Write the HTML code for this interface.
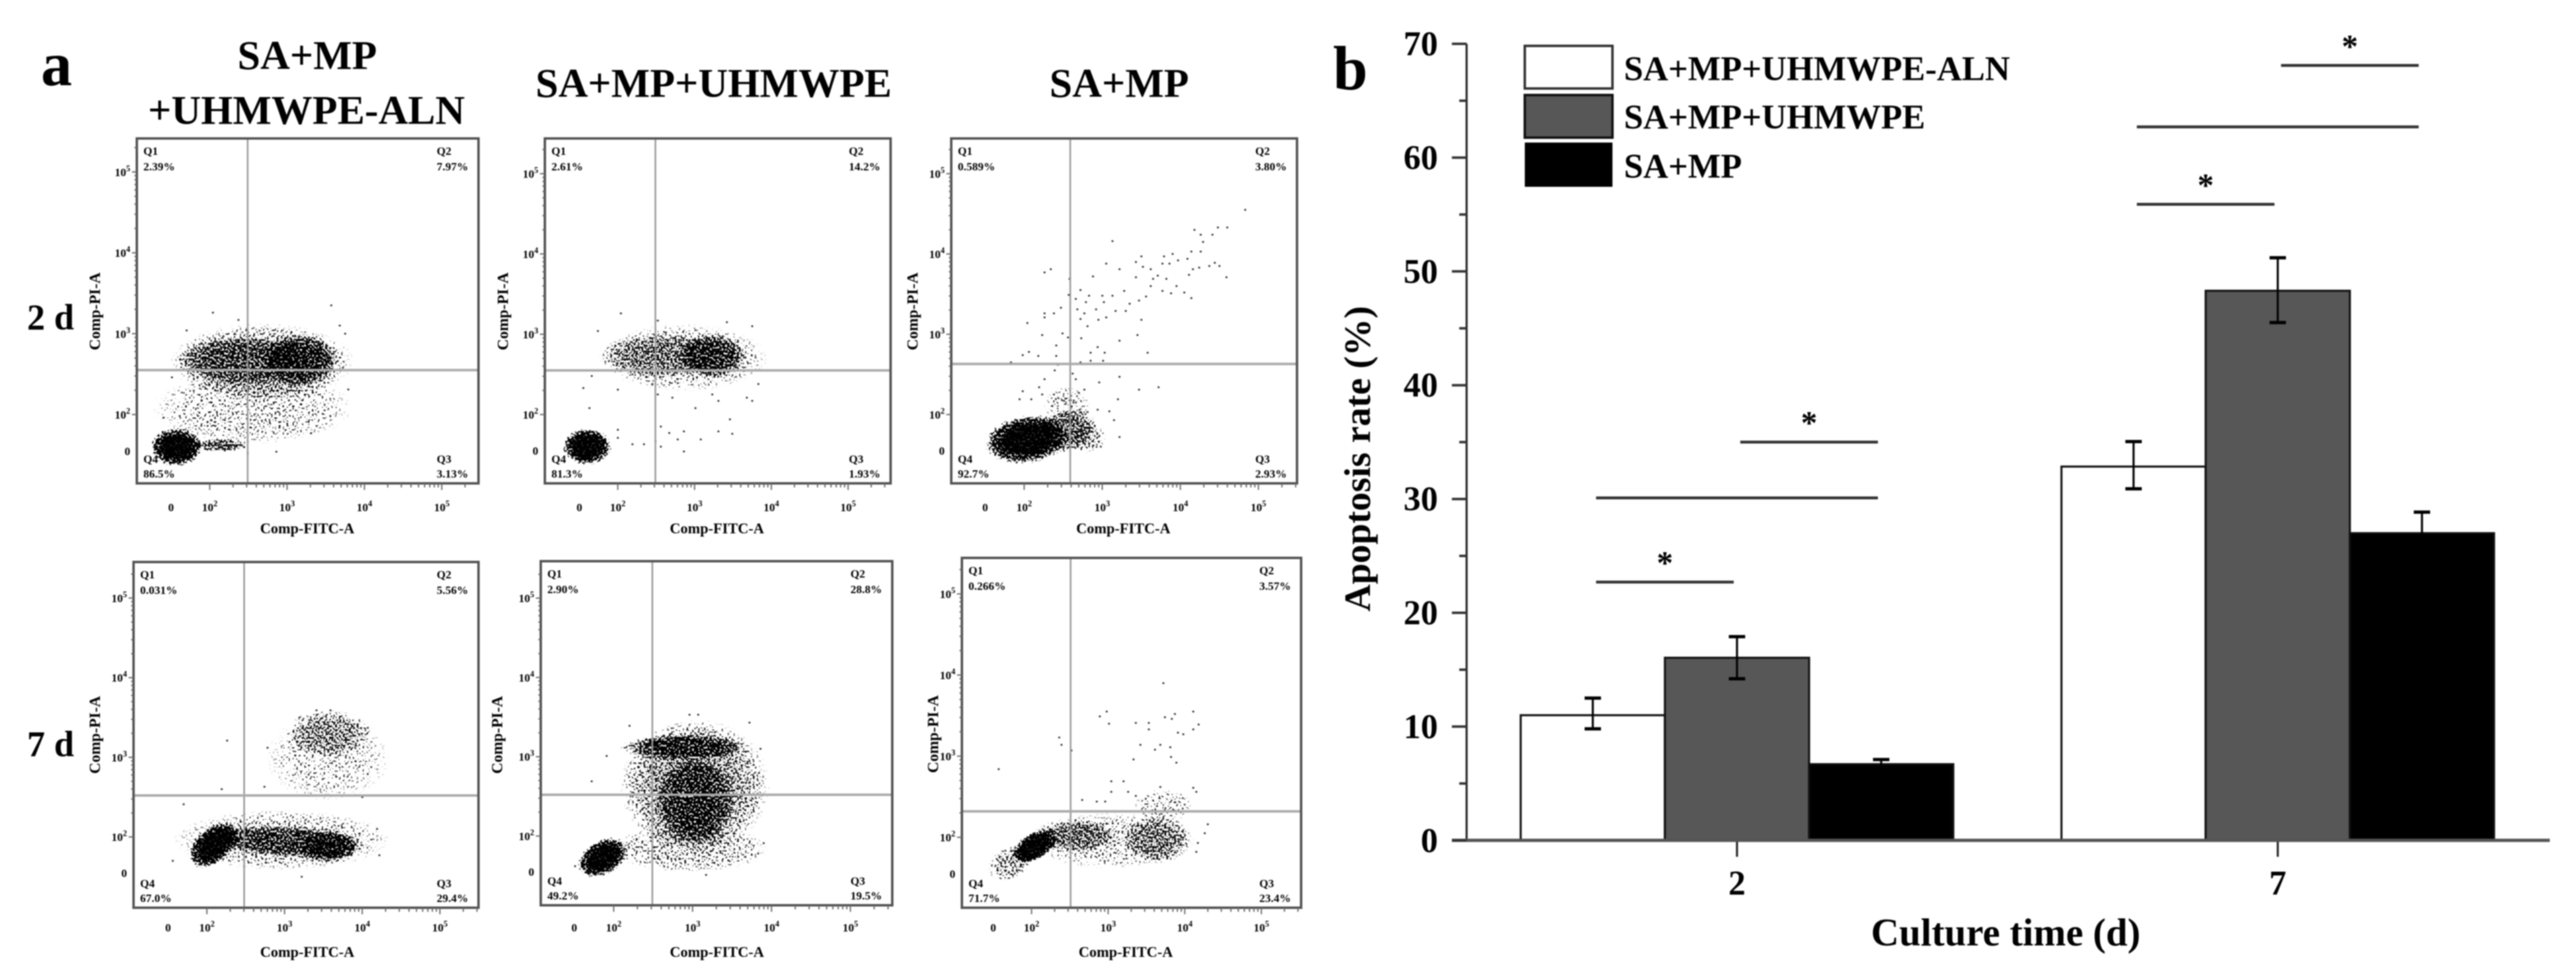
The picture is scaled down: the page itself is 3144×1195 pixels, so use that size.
<!DOCTYPE html>
<html lang="en">
<head>
<meta charset="utf-8">
<title>Flow cytometry apoptosis panels and apoptosis rate bar chart</title>
<style>
html,body{margin:0;padding:0;background:#fff;width:3144px;height:1195px;overflow:hidden}
svg{display:block;filter:blur(0.9px)}
text{font-family:"Liberation Serif",serif;font-weight:bold;fill:#000}
</style>
</head>
<body>
<svg id="figure" xmlns="http://www.w3.org/2000/svg" width="3144" height="1195" viewBox="0 0 3144 1195">
  <defs>
    <radialGradient id="cloudFade">
      <stop offset="0" stop-color="#000" stop-opacity="1"/>
      <stop offset="0.55" stop-color="#000" stop-opacity="1"/>
      <stop offset="0.8" stop-color="#000" stop-opacity="0.72"/>
      <stop offset="1" stop-color="#000" stop-opacity="0"/>
    </radialGradient>
    <filter id="stipple" x="-0.1" y="-0.1" width="1.2" height="1.2" color-interpolation-filters="sRGB">
      <feTurbulence type="fractalNoise" baseFrequency="0.42" numOctaves="1" seed="7" result="grain"/>
      <feColorMatrix in="grain" type="matrix" values="0 0 0 0 0  0 0 0 0 0  0 0 0 0 0  1 0 0 0 0" result="grainRaw"/>
      <feComponentTransfer in="grainRaw" result="grainAlpha"><feFuncA type="linear" slope="3" intercept="-1"/></feComponentTransfer>
      <feComposite in="SourceGraphic" in2="grainAlpha" operator="arithmetic" k1="0" k2="1.15" k3="1" k4="-1" result="sum"/>
      <feComponentTransfer in="sum"><feFuncA type="linear" slope="5" intercept="0"/></feComponentTransfer>
    </filter>
  </defs>
  <rect width="3144" height="1195" fill="#fff"/>

  <text x="50" y="104" font-size="76">a</text>
  <text x="1627" y="109" font-size="76">b</text>

  <text x="375" y="84" font-size="50" text-anchor="middle">SA+MP</text>
  <text x="374" y="151" font-size="50" text-anchor="middle">+UHMWPE-ALN</text>
  <text x="871" y="118" font-size="50" text-anchor="middle">SA+MP+UHMWPE</text>
  <text x="1366" y="118" font-size="50" text-anchor="middle">SA+MP</text>
  <text x="33" y="402" font-size="44">2 d</text>
  <text x="33" y="923" font-size="44">7 d</text>

  <g id="flow-panels"></g>

  <g id="bar-chart">
    <g>
      <rect x="1861" y="56" width="107" height="52" fill="#fff" stroke="#333" stroke-width="3"/>
      <rect x="1861" y="116" width="107" height="52" fill="#575757" stroke="#111" stroke-width="3"/>
      <rect x="1861" y="174" width="107" height="54" fill="#000"/>
      <text x="1982" y="98" font-size="42.3">SA+MP+UHMWPE-ALN</text>
      <text x="1982" y="157" font-size="42.3">SA+MP+UHMWPE</text>
      <text x="1982" y="217" font-size="42.3">SA+MP</text>
    </g>
    <text transform="translate(1672 560) rotate(-90)" font-size="46" text-anchor="middle">Apoptosis rate (%)</text>
    <text x="2448" y="1154" font-size="47.5" text-anchor="middle">Culture time (d)</text>
  </g>
</svg>

<script>
// ---------- Bar chart data ----------
const categories = ['2', '7'];
const alnValues = [11.0, 32.85];
const alnHigh = [12.5, 35.05];
const alnLow = [9.8, 30.9];
const uhmwpeValues = [16.05, 48.3];
const uhmwpeHigh = [17.9, 51.2];
const uhmwpeLow = [14.2, 45.5];
const saMpValues = [6.7, 27.0];
const saMpHigh = [7.1, 28.85];
const saMpLow = [6.3, 25.15];
const yTickValues = [0, 10, 20, 30, 40, 50, 60, 70];
const yMinorValues = [5, 15, 25, 35, 45, 55, 65];
const sigCategory = [0, 0, 0, 1, 1, 1];
const sigFromBar = [0, 0, 1, 0, 0, 1];
const sigToBar = [1, 2, 2, 1, 2, 2];
const sigLevel = [22.7, 30.1, 35.0, 55.9, 62.7, 68.1];
const sigStar = [true, false, true, true, false, true];

// ---------- Flow cytometry data (axis units: log10 decades) ----------
const flowXTicks = [1.5, 2, 3, 4, 5];
const flowYTicks = [1.55, 2, 3, 4, 5];
const flowTickBase = ['0', '10', '10', '10', '10'];
const flowTickExp = ['', '2', '3', '4', '5'];

const p11Quadrants = ['2.39%', '7.97%', '3.13%', '86.5%'];
const p12Quadrants = ['2.61%', '14.2%', '1.93%', '81.3%'];
const p13Quadrants = ['0.589%', '3.80%', '2.93%', '92.7%'];
const p21Quadrants = ['0.031%', '5.56%', '29.4%', '67.0%'];
const p22Quadrants = ['2.90%', '28.8%', '19.5%', '49.2%'];
const p23Quadrants = ['0.266%', '3.57%', '23.4%', '71.7%'];

// density clouds: x, y, x-spread, y-spread, tilt, density
const p11Clouds = [
  [1.57,1.60,0.34,0.24,0,1],[2.15,1.62,0.35,0.08,0,0.58],[3.16,2.67,0.5,0.33,0,0.72],
  [2.41,2.67,0.85,0.3,0,0.5],[2.67,2.65,1.2,0.48,0,0.34],[2.56,2.08,1.3,0.45,0,0.2]
];
const p12Clouds = [
  [1.6,1.6,0.32,0.23,0,1],[3.23,2.73,0.45,0.28,0,0.64],[2.56,2.73,0.8,0.28,0,0.38],[2.86,2.71,1.1,0.42,0,0.24]
];
const p13Clouds = [
  [2.04,1.69,0.55,0.30,-8,1],[2.55,1.80,0.38,0.27,-15,0.5],[2.80,1.72,0.25,0.2,0,0.28],[2.55,2.1,0.3,0.25,0,0.2]
];
const p21Clouds = [
  [2.09,1.90,0.38,0.22,-40,1],[3.04,1.94,1.0,0.2,3,0.62],[3.56,1.88,0.4,0.2,0,0.7],
  [2.96,1.96,1.4,0.38,0,0.24],[3.56,3.30,0.55,0.3,0,0.36],[3.56,3.0,0.8,0.55,0,0.16]
];
const p22Clouds = [
  [1.86,1.73,0.34,0.22,-30,1],[3.03,2.45,0.5,0.55,0,0.62],[2.88,3.12,0.8,0.16,0,0.66],
  [3.03,2.63,0.95,0.85,0,0.44],[2.96,1.84,1.0,0.3,0,0.26]
];
const p23Clouds = [
  [2.04,1.89,0.33,0.17,-30,1],[1.72,1.68,0.3,0.2,-30,0.36],[2.58,2.02,0.55,0.2,0,0.44],
  [3.64,1.98,0.45,0.3,0,0.4],[3.04,1.96,1.1,0.35,0,0.2],[3.72,2.39,0.4,0.2,0,0.2]
];

// individually readable events: x, y
const p11Dots = [
  [2.04,3.26],[3.57,3.35],[2.37,3.17],[1.70,3.04],[3.68,3.10],[3.75,3.0],[3.79,2.31],[3.72,2.58],
  [1.40,1.96],[2.86,1.54],[2.49,1.52],[3.31,1.77],[1.51,2.46]
];
const p12Dots = [
  [2.04,3.26],[2.52,3.17],[1.74,3.04],[3.42,3.15],[3.75,3.10],[3.83,2.38],[3.75,2.17],[1.63,2.08],
  [1.55,2.33],[1.66,2.48],[2.0,2.31],[2.19,2.5],[2.45,2.38],[2.52,2.25],[2.71,2.21],[3.01,2.08],
  [3.31,2.17],[3.68,2.21],[3.46,1.94],[3.49,1.76],[3.31,1.79],[2.0,1.81],[2.0,1.71],[2.19,1.63],
  [2.34,1.63],[2.49,1.67],[2.56,1.85],[2.67,1.77],[2.86,1.79],[2.78,1.69],[2.86,1.54],[3.08,1.69],
  [2.56,1.60],[3.23,2.25]
];
const p13Dots = [
  [4.83,4.55],[4.18,4.30],[4.48,4.33],[4.60,4.33],[4.26,4.24],[4.29,4.15],[4.41,4.24],[3.13,4.16],
  [4.14,4.03],[4.26,4.03],[3.50,3.97],[3.79,3.97],[3.90,4.00],[4.09,3.94],[3.77,3.88],[3.86,3.88],
  [3.97,3.92],[3.43,3.90],[3.52,3.84],[3.62,3.81],[4.37,3.85],[4.44,3.89],[4.50,3.85],[4.24,3.83],
  [4.16,3.81],[3.05,3.88],[3.22,3.81],[2.34,3.81],[2.26,3.77],[2.88,3.72],[2.58,3.69],[3.43,3.71],
  [3.71,3.73],[3.82,3.69],[4.11,3.74],[4.59,3.71],[3.65,3.69],[3.62,3.60],[3.95,3.60],[3.77,3.54],
  [3.88,3.51],[4.05,3.52],[4.14,3.45],[3.56,3.47],[3.47,3.42],[3.28,3.54],[3.13,3.48],[3.00,3.48],
  [2.72,3.55],[2.57,3.49],[2.66,3.44],[2.83,3.48],[2.79,3.40],[3.02,3.40],[3.35,3.38],[2.68,3.31],
  [2.77,3.26],[2.92,3.31],[3.17,3.29],[3.30,3.29],[2.26,3.26],[2.38,3.26],[2.47,3.33],[2.26,3.21],
  [2.72,3.19],[2.95,3.18],[3.05,3.21],[3.50,3.18],[2.04,3.14],[2.81,3.10],[2.23,2.99],[2.49,3.01],
  [2.56,2.96],[2.73,2.95],[3.22,2.92],[3.45,2.99],[2.41,2.86],[2.94,2.84],[1.98,2.74],[2.06,2.78],
  [2.18,2.73],[2.41,2.73],[2.85,2.77],[3.03,2.77],[3.58,2.77],[1.83,2.65],[2.72,2.65],[2.85,2.67],
  [3.01,2.67],[2.43,2.62],[2.39,2.55],[2.62,2.51],[2.66,2.44],[3.22,2.47],[2.26,2.44],[2.96,2.40],
  [2.19,2.34],[2.77,2.31],[2.70,2.27],[3.47,2.31],[3.72,2.34],[2.23,2.25],[2.38,2.25],[1.98,2.29],
  [1.94,2.19],[2.09,2.19],[3.20,2.19],[2.51,2.17],[2.66,2.15],[2.94,2.06],[3.09,2.04],[2.71,2.06],
  [2.81,2.03],[3.15,1.93],[3.22,1.72],[2.96,1.73],[2.98,1.60]
];
const p21Dots = [
  [2.26,3.21],[1.70,2.41],[2.19,2.60],[3.22,1.50],[3.41,3.59],[3.59,3.59],[2.78,3.12],[2.74,2.63],
  [4.07,2.79],[4.0,2.50],[4.22,1.77],[4.19,2.10],[1.56,1.70],[3.19,3.50],[4.07,3.37]
];
const p22Dots = [
  [1.72,2.69],[1.91,3.01],[3.86,3.10],[3.83,1.78],[3.17,1.51],[2.96,3.53],[3.07,3.53],[3.72,3.43],
  [3.90,1.91],[1.51,1.62],[2.20,3.39]
];
const p23Dots = [
  [3.72,3.90],[2.98,3.55],[2.89,3.49],[3.01,3.40],[3.36,3.41],[3.53,3.41],[3.53,3.33],[3.74,3.48],
  [3.87,3.52],[3.83,3.46],[4.11,3.55],[4.18,3.39],[4.11,3.33],[3.91,3.29],[3.98,3.27],[2.36,3.23],
  [2.39,3.14],[2.52,3.07],[3.42,3.14],[3.68,3.14],[3.81,3.11],[3.61,3.08],[3.82,2.99],[3.33,2.96],
  [3.89,2.92],[1.57,2.84],[3.04,2.69],[3.20,2.69],[3.04,2.56],[3.26,2.56],[3.36,2.51],[3.68,2.62],
  [4.11,2.61],[4.15,2.56],[4.49,2.32],[2.66,2.46],[2.85,2.44],[2.96,2.44],[4.30,2.16],[4.26,2.05],
  [4.15,1.82],[4.17,1.93]
];

const panelGateX = [2.49, 2.49, 2.59, 2.48, 2.49, 2.51];
const panelGateY = [2.55, 2.55, 2.63, 2.52, 2.52, 2.32];

// ---------- Panel layout ----------
const panelLayouts = [
  {id:'2d-aln', l:167, t:169, r:584, b:590, x2:256, xp:94.4, y2:506, yp:98.7, xLab:375, xLabY:651, yLab:116, yLabC:380, tickY:624},
  {id:'2d-uhmwpe', l:665, t:169, r:1087, b:590, x2:754, xp:93.7, y2:506, yp:98, xLab:875, xLabY:651, yLab:614, yLabC:380, tickY:624},
  {id:'2d-sa-mp', l:1161, t:169, r:1583, b:590, x2:1250, xp:95.3, y2:506, yp:98, xLab:1371, xLabY:651, yLab:1114, yLabC:380, tickY:624},
  {id:'7d-aln', l:163, t:686, r:584, b:1108, x2:252.5, xp:94.8, y2:1021.6, yp:97.2, xLab:375, xLabY:1168, yLab:116, yLabC:897, tickY:1137},
  {id:'7d-uhmwpe', l:660, t:685, r:1089, b:1105, x2:749, xp:96.3, y2:1020.5, yp:96.8, xLab:875, xLabY:1168, yLab:607, yLabC:897, tickY:1137},
  {id:'7d-sa-mp', l:1174, t:681, r:1588, b:1108, x2:1259, xp:93.5, y2:1022, yp:99, xLab:1374, xLabY:1168, yLab:1139, yLabC:896, tickY:1137}
];
const panelClouds = [p11Clouds, p12Clouds, p13Clouds, p21Clouds, p22Clouds, p23Clouds];
const panelDots = [p11Dots, p12Dots, p13Dots, p21Dots, p22Dots, p23Dots];
const panelQuads = [p11Quadrants, p12Quadrants, p13Quadrants, p21Quadrants, p22Quadrants, p23Quadrants];

const NS = 'http://www.w3.org/2000/svg';
function mk(tag, parent, attrs, text) {
  const el = document.createElementNS(NS, tag);
  for (const k in attrs) el.setAttribute(k, attrs[k]);
  if (text !== undefined) el.textContent = text;
  parent.appendChild(el);
  return el;
}

// ---------- Draw flow panels ----------
const flowRoot = document.getElementById('flow-panels');
panelLayouts.forEach(function (p, idx) {
  const xAt = function (d) { return p.x2 + (d - 2) * p.xp; };
  const yAt = function (d) { return p.y2 - (d - 2) * p.yp; };

  const g = mk('g', flowRoot, {});
  
  

  const cloudGroup = mk('g', g, {filter: 'url(#stipple)'});
  
  
  panelClouds[idx].forEach(function (c) {
    const cx = xAt(c[0]);
    const cy = yAt(c[1]);
    const e = mk('ellipse', cloudGroup, {
      cx: cx, cy: cy, rx: c[2] * p.xp, ry: c[3] * p.yp,
      fill: 'url(#cloudFade)', 'fill-opacity': c[5],
      transform: 'rotate(' + c[4] + ' ' + cx + ' ' + cy + ')'
    });
    
    
  });

  const dotGroup = mk('g', g, {fill: '#222'});
  
  
  panelDots[idx].forEach(function (d) {
    const r = mk('rect', dotGroup, {x: xAt(d[0]) - 1, y: yAt(d[1]) - 1, width: 2.2, height: 2});
    
    
  });

  const gateV = mk('line', g, {x1: xAt(panelGateX[idx]), x2: xAt(panelGateX[idx]), y1: p.t, y2: p.b, stroke: '#999', 'stroke-width': 2});
  
  
  const gateH = mk('line', g, {x1: p.l, x2: p.r, y1: yAt(panelGateY[idx]), y2: yAt(panelGateY[idx]), stroke: '#aaa', 'stroke-width': 3});
  
  

  const frame = mk('rect', g, {x: p.l, y: p.t, width: p.r - p.l, height: p.b - p.t, fill: 'none', stroke: '#555', 'stroke-width': 3});
  
  

  // ticks
  const tickGroup = mk('g', g, {stroke: '#666', 'stroke-width': 1.5});
  
  
  for (let dec = 2; dec < 6; dec++) {
    for (let m = 1; m < 10; m++) {
      const v = dec + Math.log10(m);
      const tx = xAt(v);
      const ty = yAt(v);
      if (tx < p.r) {
        const tk = mk('line', tickGroup, {x1: tx, x2: tx, y1: p.b, y2: p.b + (m === 1 ? 8 : 5)});
        
        
      }
      if (ty > p.t) {
        const tk = mk('line', tickGroup, {x1: p.l - (m === 1 ? 6 : 3), x2: p.l, y1: ty, y2: ty});
        
        
      }
    }
  }

  flowXTicks.forEach(function (v, i) {
    const t = mk('text', g, {x: xAt(v), y: p.tickY, 'font-size': 14, 'text-anchor': 'middle'}, flowTickBase[i]);
    
    
    if (flowTickExp[i]) mk('tspan', t, {dy: -6, 'font-size': 10}, flowTickExp[i]);
  });
  flowYTicks.forEach(function (v, i) {
    const t = mk('text', g, {x: p.l - 8, y: yAt(v) + 5, 'font-size': 14, 'text-anchor': 'end'}, flowTickBase[i]);
    
    
    if (flowTickExp[i]) mk('tspan', t, {dy: -6, 'font-size': 10}, flowTickExp[i]);
  });

  const xTitle = mk('text', g, {x: p.xLab, y: p.xLabY, 'font-size': 18, 'text-anchor': 'middle'}, 'Comp-FITC-A');
  
  
  const yTitle = mk('text', g, {transform: 'translate(' + (p.yLab + 6) + ' ' + p.yLabC + ') rotate(-90)', 'font-size': 19, 'text-anchor': 'middle'}, 'Comp-PI-A');
  
  

  // quadrant labels
  const q = panelQuads[idx];
  const qSpots = [
    ['Q1', p.l + 8, p.t + 20, p.t + 39],
    ['Q2', p.r - 51, p.t + 20, p.t + 39],
    ['Q3', p.r - 51, p.b - 25, p.b - 7],
    ['Q4', p.l + 8, p.b - 25, p.b - 7]
  ];
  qSpots.forEach(function (s, i) {
    const n = mk('text', g, {x: s[1], y: s[2], 'font-size': 14}, s[0]);
    
    
    const v = mk('text', g, {x: s[1], y: s[3], 'font-size': 14}, q[i]);
    
    
  });
});

// ---------- Draw bar chart ----------
const chart = document.getElementById('bar-chart');
const yScale = function (v) { return 1025.8 - v * 13.89; };
const barWidth = 176;
const catX = function (i) { return 2120 + 660 * i; };
const barLeft = function (c, s) { return catX(c) - 1.5 * barWidth + s * barWidth; };
const barCentre = function (c, s) { return barLeft(c, s) + barWidth / 2; };

const seriesNames = ['aln', 'uhmwpe', 'sa-mp'];
const seriesFill = ['#fff', '#575757', '#000'];
const seriesValues = [alnValues, uhmwpeValues, saMpValues];
const seriesHigh = [alnHigh, uhmwpeHigh, saMpHigh];
const seriesLow = [alnLow, uhmwpeLow, saMpLow];

categories.forEach(function (cat, c) {
  seriesNames.forEach(function (name, s) {
    const v = seriesValues[s][c];
    const bar = mk('rect', chart, {x: barLeft(c, s), y: yScale(v), width: barWidth, height: yScale(0) - yScale(v), fill: seriesFill[s], stroke: '#111', 'stroke-width': 2.5});
    
    
  });
  seriesNames.forEach(function (name, s) {
    const cx = barCentre(c, s);
    const hi = yScale(seriesHigh[s][c]);
    const lo = yScale(seriesLow[s][c]);
    const eg = mk('g', chart, {stroke: '#000', 'stroke-width': 2.5});
    
    
    mk('line', eg, {x1: cx, x2: cx, y1: hi, y2: lo});
    mk('line', eg, {x1: cx - 10, x2: cx + 10, y1: hi, y2: hi, 'stroke-width': 4});
    mk('line', eg, {x1: cx - 10, x2: cx + 10, y1: lo, y2: lo, 'stroke-width': 4});
  });
  const tick = mk('line', chart, {x1: catX(c), x2: catX(c), y1: yScale(0), y2: yScale(0) + 20, stroke: '#222', 'stroke-width': 2.5});
  
  
  const lab = mk('text', chart, {x: catX(c), y: 1092, 'font-size': 42, 'text-anchor': 'middle'}, cat);
  
  
});

const yAxis = mk('line', chart, {x1: 1790, x2: 1790, y1: yScale(70), y2: yScale(0), stroke: '#222', 'stroke-width': 2.5});


const xAxis = mk('line', chart, {x1: 1772, x2: 3112, y1: yScale(0), y2: yScale(0), stroke: '#555', 'stroke-width': 4});



yTickValues.forEach(function (v) {
  const tk = mk('line', chart, {x1: 1772, x2: 1790, y1: yScale(v), y2: yScale(v), stroke: '#333', 'stroke-width': 3});
  
  
  const lb = mk('text', chart, {x: 1755, y: yScale(v) + 14, 'font-size': 42, 'text-anchor': 'end'}, String(v));
  
  
});
yMinorValues.forEach(function (v) {
  const tk = mk('line', chart, {x1: 1781, x2: 1790, y1: yScale(v), y2: yScale(v), stroke: '#333', 'stroke-width': 3});
  
  
});

sigLevel.forEach(function (level, i) {
  const x1 = barCentre(sigCategory[i], sigFromBar[i]) + 4;
  const x2 = barCentre(sigCategory[i], sigToBar[i]) - 4;
  const y = yScale(level);
  const ln = mk('line', chart, {x1: x1, x2: x2, y1: y, y2: y, stroke: '#333', 'stroke-width': 3.5});
  
  
  if (sigStar[i]) {
    const st = mk('text', chart, {x: (x1 + x2) / 2, y: y - 10, 'font-size': 40, 'text-anchor': 'middle'}, '*');
    
    
  }
});
</script>
</body>
</html>
